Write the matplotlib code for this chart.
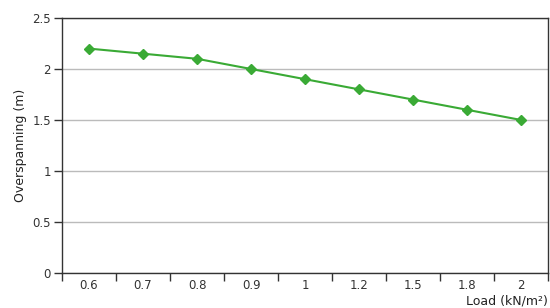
import matplotlib.pyplot as plt
from matplotlib.ticker import FixedLocator

plt.rcParams['font.family'] = ['DejaVu Sans']

# Data
loads = ['0.6', '0.7', '0.8', '0.9', '1', '1.2', '1.5', '1.8', '2']
span = [2.2, 2.15, 2.1, 2.0, 1.9, 1.8, 1.7, 1.6, 1.5]
y_ticks = [0, 0.5, 1, 1.5, 2, 2.5]
y_labels = ['0', '0.5', '1', '1.5', '2', '2.5']

fig = plt.figure(figsize=(5.5, 3.08), dpi=100)
ax = fig.add_axes([0.1127, 0.1136, 0.884, 0.828])

x = list(range(len(loads)))
ax.plot(x, span, color='#3aaa35', linewidth=1.5, marker='D', markersize=5)

ax.set_xlim(-0.5, len(loads) - 0.5)
ax.set_ylim(0, 2.5)

ax.set_xticks(x)
ax.set_xticklabels(loads, fontsize=8.5, color='#333333')
ax.tick_params(axis='x', which='major', length=0, pad=4)
ax.xaxis.set_minor_locator(FixedLocator([i + 0.5 for i in range(-1, len(loads))]))
ax.tick_params(axis='x', which='minor', length=6, width=1, color='#333333', direction='out')

ax.set_yticks(y_ticks)
ax.set_yticklabels(y_labels, fontsize=8.5, color='#333333')
ax.tick_params(axis='y', length=6, width=1, color='#333333', pad=2)

ax.grid(axis='y', color='#bbbbbb', linewidth=1)
ax.set_axisbelow(True)

for side in ['left', 'bottom', 'right', 'top']:
    ax.spines[side].set_color('#333333')
    ax.spines[side].set_linewidth(1)

ax.set_ylabel('Overspanning (m)', fontsize=9, color='#222222', labelpad=4)
fig.text(0.997, 0.003, 'Load (kN/m²)', ha='right', va='bottom', fontsize=9, color='#222222')

fig.savefig('out.png', dpi=100)
